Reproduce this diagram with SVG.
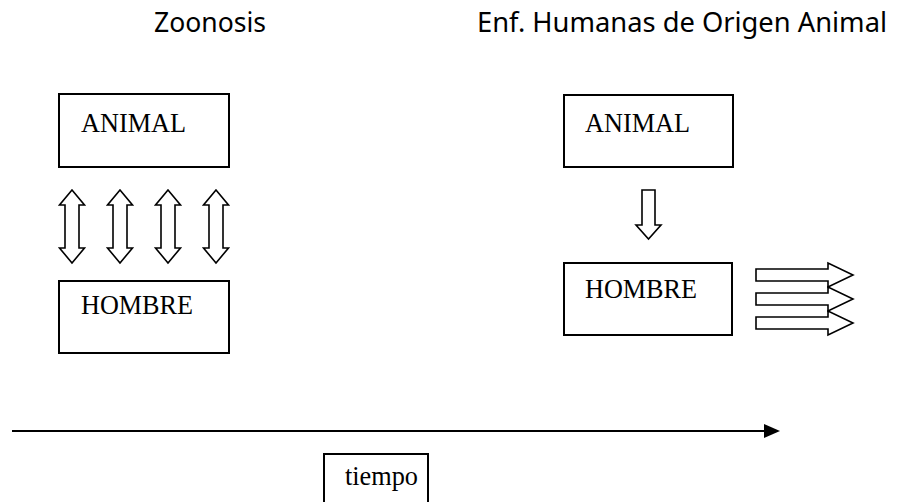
<svg xmlns="http://www.w3.org/2000/svg" width="898" height="502" viewBox="0 0 898 502">
<style>
.box{fill:#fff;stroke:#000;stroke-width:2}
.lbl{font-family:"Liberation Serif","Times New Roman",serif;font-size:27px;fill:#000}
.ttl{font-family:"Noto Sans","DejaVu Sans",sans-serif;font-size:27px;fill:#000}
.blk{fill:#fff;stroke:#000;stroke-width:1.6;stroke-linejoin:miter}
</style>
<rect width="898" height="502" fill="#fff"/>
<g id="title-zoonosis"><text class="ttl" x="154" y="32" textLength="112" lengthAdjust="spacingAndGlyphs">Zoonosis</text></g>
<g id="title-enf"><text class="ttl" x="477" y="32" textLength="410" lengthAdjust="spacingAndGlyphs">Enf. Humanas de Origen Animal</text></g>

<g id="animal-left"><rect class="box" x="59" y="94" width="170" height="73"/><text class="lbl" x="81" y="132" textLength="105" lengthAdjust="spacingAndGlyphs">ANIMAL</text></g>
<g id="hombre-left"><rect class="box" x="59" y="281" width="170" height="72"/><text class="lbl" x="81" y="314" textLength="112" lengthAdjust="spacingAndGlyphs">HOMBRE</text></g>
<g id="animal-right"><rect class="box" x="564" y="95" width="169" height="72"/><text class="lbl" x="585" y="132" textLength="105" lengthAdjust="spacingAndGlyphs">ANIMAL</text></g>
<g id="hombre-right"><rect class="box" x="564" y="263" width="168" height="72"/><text class="lbl" x="585" y="298" textLength="112" lengthAdjust="spacingAndGlyphs">HOMBRE</text></g>
<g id="tiempo"><rect class="box" x="324" y="454" width="104" height="60"/><text class="lbl" x="345" y="485" textLength="73" lengthAdjust="spacingAndGlyphs">tiempo</text></g>

<g id="connectors">
<path class="blk" d="M72,190 L84.5,205 L79,205 L79,248 L84.5,248 L72,263 L59.5,248 L65,248 L65,205 L59.5,205 Z"/>
<path class="blk" d="M120,190 L132.5,205 L127,205 L127,248 L132.5,248 L120,263 L107.5,248 L113,248 L113,205 L107.5,205 Z"/>
<path class="blk" d="M168,190 L180.5,205 L175,205 L175,248 L180.5,248 L168,263 L155.5,248 L161,248 L161,205 L155.5,205 Z"/>
<path class="blk" d="M216,190 L228.5,205 L223,205 L223,248 L228.5,248 L216,263 L203.5,248 L209,248 L209,205 L203.5,205 Z"/>
<path class="blk" d="M642,190 L655,190 L655,225 L661,225 L648.5,239 L636,225 L642,225 Z"/>
<path class="blk" d="M756,269 L828,269 L828,263 L853,275 L828,287 L828,281 L756,281 Z"/>
<path class="blk" d="M756,293 L828,293 L828,287 L853,299 L828,311 L828,305 L756,305 Z"/>
<path class="blk" d="M756,317 L828,317 L828,311 L853,323 L828,335 L828,329 L756,329 Z"/>
<line x1="12" y1="431" x2="766" y2="431" stroke="#000" stroke-width="2.2"/>
<polygon points="764,424 780,431 764,438" fill="#000"/>
</g>
</svg>
